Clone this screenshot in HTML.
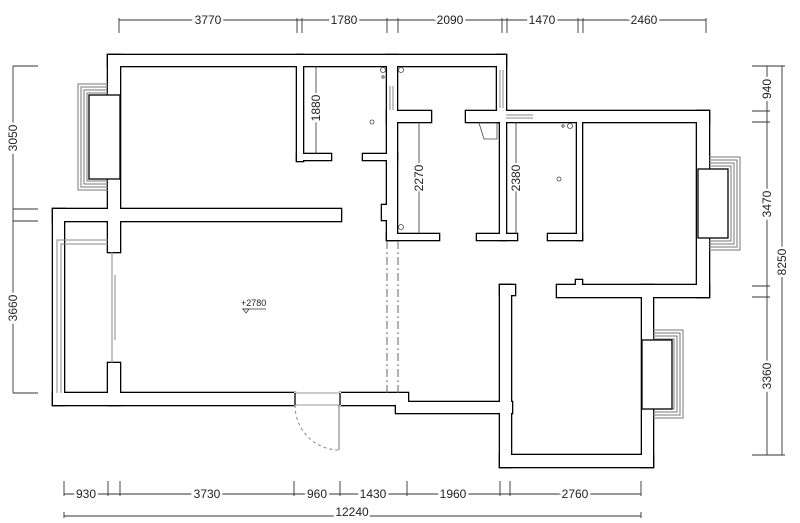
<!DOCTYPE html>
<html><head><meta charset="utf-8"><style>
html,body{margin:0;padding:0;background:#fff;}
svg{display:block;}
text{font-family:"Liberation Sans",sans-serif;font-size:12px;fill:#222;}
</style></head><body>
<svg width="800" height="523" viewBox="0 0 800 523" xmlns="http://www.w3.org/2000/svg">
<defs>
<g id="w">
<rect x="108" y="55" width="398" height="11"/>
<rect x="108" y="55" width="12" height="166"/>
<rect x="53" y="209" width="288" height="12"/>
<rect x="108" y="209" width="12" height="43"/>
<rect x="108" y="363" width="12" height="42"/>
<rect x="53" y="209" width="11" height="196"/>
<rect x="53" y="393" width="242" height="12"/>
<rect x="340" y="393" width="68" height="12"/>
<rect x="396" y="402" width="116" height="11"/>
<rect x="500" y="285" width="11" height="182"/>
<rect x="500" y="285" width="15" height="10"/>
<rect x="500" y="455" width="153" height="12"/>
<rect x="642" y="285" width="11" height="182"/>
<rect x="557" y="285" width="152" height="12"/>
<rect x="576" y="280" width="6" height="6"/>
<rect x="697" y="111" width="12" height="186"/>
<rect x="466" y="111" width="243" height="11"/>
<rect x="577" y="122" width="5" height="118"/>
<rect x="548" y="234" width="34" height="6"/>
<rect x="500" y="111" width="6" height="129"/>
<rect x="477" y="234" width="40" height="6"/>
<rect x="497" y="55" width="9" height="67"/>
<rect x="387" y="55" width="10" height="185"/>
<rect x="387" y="111" width="44" height="11"/>
<rect x="387" y="234" width="52" height="6"/>
<rect x="382" y="205" width="6" height="15"/>
<rect x="297" y="55" width="6" height="106"/>
<rect x="297" y="154" width="34" height="6"/>
<rect x="363" y="154" width="34" height="6"/>
</g>
</defs>
<use href="#w" fill="#000" stroke="#000" stroke-width="2.6"/>
<use href="#w" fill="#fff"/>

<!-- door opening -->
<rect x="294" y="392" width="47" height="14" fill="#fff"/>
<line x1="294" y1="393" x2="340" y2="393" stroke="#999" stroke-width="1"/>
<line x1="294" y1="405" x2="340" y2="405" stroke="#999" stroke-width="1"/>
<line x1="295" y1="393" x2="295" y2="405" stroke="#000" stroke-width="1.3"/>
<line x1="340" y1="393" x2="340" y2="405" stroke="#000" stroke-width="1.3"/>
<line x1="339" y1="405" x2="339" y2="450" stroke="#777" stroke-width="1"/>
<path d="M295 405 A44 45 0 0 0 339 450" fill="none" stroke="#888" stroke-width="1" stroke-dasharray="3 3"/>

<!-- dashed lines -->
<line x1="387" y1="241" x2="387" y2="393" stroke="#666" stroke-width="1" stroke-dasharray="8 3 2 3"/>
<line x1="398" y1="241" x2="398" y2="393" stroke="#666" stroke-width="1" stroke-dasharray="8 3 2 3"/>

<!-- left bedroom window bay -->
<g fill="none" stroke="#777" stroke-width="1">
<path d="M108 84 H78 V190 H108"/><path d="M108 87 H81 V187 H108"/><path d="M108 90 H84 V184 H108"/><path d="M108 93 H87 V181 H108"/>
</g>
<rect x="89" y="95" width="31" height="84" fill="#fff" stroke="#000" stroke-width="1.3"/>
<!-- right bedroom window -->
<g fill="none" stroke="#777" stroke-width="1">
<path d="M709 157 H740 V250 H709"/><path d="M709 160 H737 V247 H709"/><path d="M709 163 H734 V244 H709"/><path d="M709 166 H731 V241 H709"/>
</g>
<rect x="698" y="169" width="30" height="69" fill="#fff" stroke="#000" stroke-width="1.3"/>
<!-- lower bedroom window -->
<g fill="none" stroke="#777" stroke-width="1">
<path d="M653 330 H683 V418 H653"/><path d="M653 333 H680 V415 H653"/><path d="M653 336 H677 V412 H653"/><path d="M653 339 H674 V409 H653"/>
</g>
<rect x="642" y="340" width="30" height="69" fill="#fff" stroke="#000" stroke-width="1.3"/>

<!-- balcony inner lines -->
<g fill="none" stroke="#888" stroke-width="1">
<path d="M57 393 V240 H108"/><path d="M61 393 V244 H108"/>
<line x1="112" y1="252" x2="112" y2="363"/><line x1="115" y1="275" x2="115" y2="340"/>
<line x1="506" y1="115" x2="533" y2="115"/><line x1="506" y1="118" x2="533" y2="118"/>
<line x1="500" y1="70" x2="500" y2="108"/><line x1="503" y1="70" x2="503" y2="108"/>
<line x1="390" y1="86" x2="390" y2="110"/><line x1="393" y1="86" x2="393" y2="110"/>
</g>

<!-- fixtures -->
<g fill="none" stroke="#444" stroke-width="0.8">
<circle cx="383" cy="70" r="2.5"/><circle cx="383" cy="77" r="1.2"/>
<circle cx="401" cy="70" r="2.5"/><circle cx="401" cy="227" r="2.5"/>
<circle cx="570" cy="126" r="2.5"/><circle cx="563" cy="126" r="1.2"/>
<circle cx="372" cy="122" r="2"/><circle cx="559" cy="179" r="2"/>
<path d="M479 123 L484 139 L497 139 L497 123 Z"/>
</g>

<!-- interior dims -->
<g stroke="#333" stroke-width="0.8">
<line x1="316" y1="66" x2="316" y2="154"/>
<line x1="419" y1="122" x2="419" y2="234"/>
<line x1="516" y1="122" x2="516" y2="234"/>
</g>
<text transform="translate(320,108) rotate(-90)" text-anchor="middle" style="paint-order:stroke" stroke="#fff" stroke-width="4">1880</text>
<text transform="translate(423,178) rotate(-90)" text-anchor="middle" style="paint-order:stroke" stroke="#fff" stroke-width="4">2270</text>
<text transform="translate(520,178) rotate(-90)" text-anchor="middle" style="paint-order:stroke" stroke="#fff" stroke-width="4">2380</text>
<text x="241" y="306" style="font-size:9px">+2780</text>
<line x1="242" y1="309" x2="266" y2="309" stroke="#333" stroke-width="0.7"/>
<path d="M243 309 L249 309 L246 313 Z" fill="none" stroke="#333" stroke-width="0.7"/>

<!-- dimension lines -->
<g stroke="#333" stroke-width="0.9" fill="none">
<line x1="119" y1="20" x2="706" y2="20"/>
<path d="M119 18 V33 M297 18 V33 M302 18 V33 M387 18 V33 M398 18 V33 M502 18 V33 M507 18 V33 M578 18 V33 M583 18 V33 M706 18 V33"/>
<line x1="64" y1="494" x2="641" y2="494"/>
<path d="M64 481 V496 M108 481 V496 M120 481 V496 M294 481 V496 M340 481 V496 M407 481 V496 M500 481 V496 M510 481 V496 M641 481 V496"/>
<line x1="64" y1="516" x2="641" y2="516"/>
<path d="M64 512 V518 M641 512 V518"/>
<line x1="13" y1="66" x2="13" y2="393"/>
<path d="M13 66 H38 M13 209 H38 M13 221 H38 M13 393 H38"/>
<line x1="767" y1="66" x2="767" y2="455"/>
<path d="M752 66 H770 M752 111 H770 M752 122 H770 M752 286 H770 M752 297 H770 M752 455 H770"/>
<line x1="782" y1="66" x2="782" y2="455"/>
<path d="M766 66 H785 M766 455 H785"/>
</g>
<g style="paint-order:stroke" stroke="#fff" stroke-width="5" text-anchor="middle">
<text x="208" y="24">3770</text>
<text x="344" y="24">1780</text>
<text x="450" y="24">2090</text>
<text x="542" y="24">1470</text>
<text x="644" y="24">2460</text>
<text x="86" y="498">930</text>
<text x="207" y="498">3730</text>
<text x="317" y="498">960</text>
<text x="373" y="498">1430</text>
<text x="453" y="498">1960</text>
<text x="575" y="498">2760</text>
<text x="352" y="516">12240</text>
<text transform="translate(17,138) rotate(-90)">3050</text>
<text transform="translate(17,308) rotate(-90)">3660</text>
<text transform="translate(771,89) rotate(-90)">940</text>
<text transform="translate(771,204) rotate(-90)">3470</text>
<text transform="translate(771,376) rotate(-90)">3360</text>
<text transform="translate(786,262) rotate(-90)">8250</text>
</g>
</svg>
</body></html>
